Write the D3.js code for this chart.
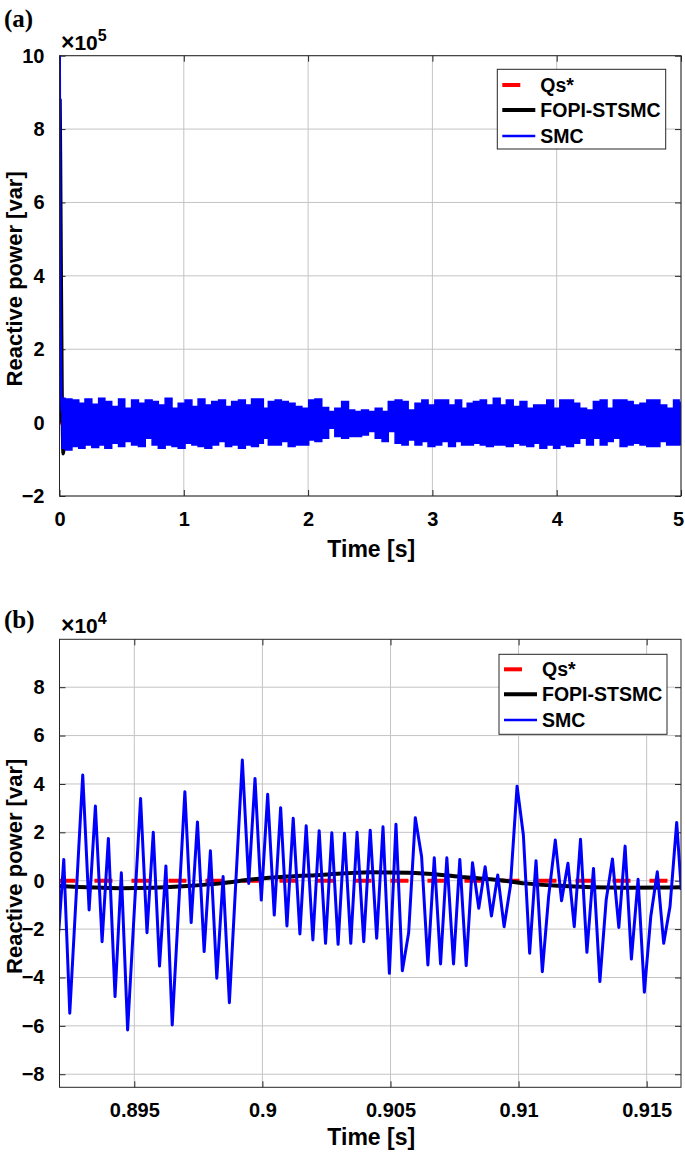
<!DOCTYPE html>
<html><head><meta charset="utf-8">
<script src="https://cdn.jsdelivr.net/npm/d3@7"></script>
<style>body{margin:0;background:#fff}svg{display:block}</style>
</head><body><svg id="c" width="685" height="1153"></svg>
<script>
// ---------- DATA ----------
const seriesNames = ["Qs*", "FOPI-STSMC", "SMC"];

// Panel (a): whole run 0..5 s (values in x10^5 var)
const aXTicks = [0, 1, 2, 3, 4, 5];
const aXTickLabels = ["0", "1", "2", "3", "4", "5"];
const aYTicks = [-2, 0, 2, 4, 6, 8, 10];
const aRefT = [0, 5];
const aRefV = [0, 0];
const aFopiT = [0, 0.004, 0.01, 0.02, 0.03, 0.05, 5.0];
const aFopiV = [0, 8.8, 6.0, 1.0, -0.85, 0, 0];
const aSmcSpikeT = [0, 0.002, 0.006, 0.015, 0.02];
const aSmcSpikeV = [5.9, 10.0, 3.0, 0.6, 0.3];
// envelope of the fast SMC chattering band
const aBandT = [0.02,0.07,0.13,0.18,0.23,0.29,0.34,0.39,0.45,0.50,0.55,0.61,0.66,0.72,0.77,0.82,0.88,0.93,0.98,1.04,1.09,1.14,1.20,1.25,1.31,1.36,1.41,1.47,1.52,1.57,1.63,
  1.65,1.71,1.76,1.81,1.87,1.92,1.98,2.03,2.08,2.14,2.19,2.24,2.30,2.35,2.40,2.46,2.51,2.57,2.62,2.67,2.73,2.78,2.83,2.89,2.94,2.99,3.05,3.10,3.16,3.21,3.26,
  3.30,3.36,3.41,3.46,3.52,3.57,3.62,3.68,3.73,3.79,3.84,3.89,3.95,4.00,4.05,4.11,4.16,4.21,4.27,4.32,4.38,4.43,4.48,4.54,4.59,4.64,4.70,4.75,4.80,4.86,4.91,4.97,5.00];
const aBandUpper = [0.665,0.647,0.619,0.528,0.647,0.501,0.665,0.574,0.437,0.647,0.392,0.619,0.528,0.619,0.574,0.483,0.665,0.392,0.528,0.619,0.437,0.647,0.483,0.574,0.619,0.437,0.574,0.619,0.483,0.647,0.647,
  0.392,0.574,0.619,0.574,0.528,0.437,0.392,0.619,0.647,0.410,0.301,0.392,0.574,0.347,0.301,0.347,0.301,0.392,0.301,0.574,0.619,0.574,0.347,0.528,0.619,0.483,0.619,0.619,0.483,0.619,0.392,
  0.528,0.574,0.619,0.483,0.665,0.483,0.619,0.437,0.574,0.392,0.483,0.483,0.619,0.392,0.619,0.619,0.528,0.392,0.347,0.574,0.619,0.392,0.619,0.619,0.574,0.483,0.528,0.619,0.619,0.483,0.392,0.619,0.55];
const aBandLower = [-0.699,-0.745,-0.654,-0.699,-0.608,-0.681,-0.608,-0.699,-0.563,-0.654,-0.518,-0.608,-0.654,-0.427,-0.608,-0.699,-0.608,-0.654,-0.699,-0.563,-0.608,-0.654,-0.699,-0.608,-0.518,-0.654,-0.608,-0.699,-0.608,-0.654,-0.563,
  -0.427,-0.608,-0.608,-0.518,-0.654,-0.608,-0.608,-0.472,-0.518,-0.427,-0.154,-0.381,-0.427,-0.381,-0.381,-0.336,-0.245,-0.427,-0.518,-0.245,-0.563,-0.608,-0.472,-0.608,-0.518,-0.654,-0.608,-0.518,-0.654,-0.518,-0.608,
  -0.608,-0.563,-0.608,-0.654,-0.608,-0.608,-0.654,-0.563,-0.608,-0.654,-0.563,-0.699,-0.608,-0.699,-0.608,-0.654,-0.563,-0.427,-0.608,-0.427,-0.608,-0.518,-0.427,-0.654,-0.608,-0.563,-0.608,-0.654,-0.654,-0.518,-0.608,-0.608,-0.6];

// Panel (b): zoom 0.892..0.916 s (values in x10^4 var)
const bXTicks = [0.895, 0.9, 0.905, 0.91, 0.915];
const bXTickLabels = ["0.895", "0.9", "0.905", "0.91", "0.915"];
const bYTicks = [-8, -6, -4, -2, 0, 2, 4, 6, 8];
const bRefT = [0.892, 0.9165];
const bRefV = [0, 0];
const bFopiT = [0.89204,0.89448,0.89706,0.89838,0.89967,0.90097,0.90227,0.90422,0.90571,0.90701,0.90792,0.90921,0.91025,0.91155,0.91285,0.91415,0.91634];
const bFopiV = [-0.22,-0.31,-0.22,-0.11,0.06,0.17,0.24,0.35,0.33,0.24,0.14,0.03,-0.11,-0.21,-0.27,-0.29,-0.27];
const bSmcT = [0.892013,0.892247,0.892481,0.892987,0.893236,0.893481,0.893742,0.893988,0.894248,0.894494,0.894739,0.895245,0.895495,0.895740,0.895985,0.896234,0.896480,0.896974,0.897220,0.897465,
  0.897726,0.897971,0.898220,0.898466,0.898711,0.899217,0.899466,0.899712,0.899957,0.900206,0.900463,0.900712,0.900958,0.901203,0.901464,0.901709,0.901970,0.902216,0.902465,0.902710,
  0.902955,0.903205,0.903450,0.903695,0.903956,0.904209,0.904462,0.904708,0.904957,0.905214,0.905463,0.905709,0.905969,0.906215,0.906460,0.906709,0.906955,0.907200,0.907461,0.907706,
  0.907955,0.908201,0.908446,0.908695,0.908941,0.909186,0.909435,0.909680,0.909941,0.910187,0.910432,0.910681,0.910927,0.911172,0.911433,0.911678,0.911927,0.912173,0.912418,0.912667,
  0.912924,0.913173,0.913419,0.913664,0.913913,0.914158,0.914404,0.914665,0.914910,0.915159,0.915416,0.915665,0.915911,0.916172,0.916351];
const bSmcV = [-2.66,0.88,-5.48,4.37,-1.21,3.09,-2.52,1.75,-4.79,0.33,-6.17,3.40,-2.15,2.0,-3.53,0.61,-5.96,3.68,-1.73,2.43,
  -2.93,1.24,-4.03,0.17,-5.04,4.99,-0.11,4.23,-0.80,3.57,-1.42,3.02,-1.87,2.58,-2.20,2.27,-2.45,2.07,-2.59,1.98,
  -2.63,1.96,-2.59,2.0,-2.52,2.09,-2.38,2.23,-3.83,2.33,-3.72,-2.15,2.60,0.99,-3.48,0.95,-3.44,0.95,-3.44,0.88,
  -3.51,0.74,-1.14,0.58,-1.46,0.24,-1.90,-0.22,3.91,1.89,-3.0,0.83,-3.76,-0.66,1.68,-0.83,0.72,-1.90,1.71,-2.96,
  0.51,-4.17,-0.80,0.90,-1.93,1.43,-3.24,0.06,-4.61,-1.49,0.37,-2.59,-1.07,2.41,-0.38];

// ---------- DRAWING ----------
const svg = d3.select("#c");
const FONT = "'Liberation Sans', Arial, Helvetica, sans-serif";
const colRef = "#ff0000", colFopi = "#000000", colSmc = "#0000ff";
const zip = (t, v) => t.map((d, i) => [d, v[i]]);

function drawPanel(cfg) {
  const {id, box, xDom, yDom, xTicks, xLabels, yTicks, tag, tagY, expo, expoY, xTitleY, legend} = cfg;
  const x = d3.scaleLinear().domain(xDom).range([box.l, box.r]);
  const y = d3.scaleLinear().domain(yDom).range([box.b, box.t]);
  const g = svg.append("g");
  g.append("clipPath").attr("id", "clip" + id).append("rect")
    .attr("x", box.l).attr("y", box.t).attr("width", box.r - box.l).attr("height", box.b - box.t);
  // grid
  const grid = g.append("g").attr("stroke", "#c4c4c4").attr("stroke-width", 1);
  xTicks.forEach(v => grid.append("line").attr("x1", x(v)).attr("x2", x(v)).attr("y1", box.t).attr("y2", box.b));
  yTicks.forEach(v => grid.append("line").attr("y1", y(v)).attr("y2", y(v)).attr("x1", box.l).attr("x2", box.r));
  // axes with inward ticks via d3 axis
  const tk = 6;
  const axB = g.append("g").attr("transform", `translate(0,${box.b})`)
    .call(d3.axisBottom(x).tickValues(xTicks).tickSize(-tk).tickFormat((d, i) => xLabels[i]).tickPadding(16));
  const axT = g.append("g").attr("transform", `translate(0,${box.t})`)
    .call(d3.axisTop(x).tickValues(xTicks).tickSize(-tk).tickFormat(""));
  const axL = g.append("g").attr("transform", `translate(${box.l},0)`)
    .call(d3.axisLeft(y).tickValues(yTicks).tickSize(-tk).tickFormat(d3.format("d")).tickPadding(15));
  const axR = g.append("g").attr("transform", `translate(${box.r},0)`)
    .call(d3.axisRight(y).tickValues(yTicks).tickSize(-tk).tickFormat(""));
  [axB, axT, axL, axR].forEach(a => {
    a.select(".domain").remove();
    a.selectAll(".tick line").attr("stroke", "#262626");
    a.selectAll("text").attr("fill", "#000").style("font-family", FONT).style("font-weight", "bold").style("font-size", "20px");
  });
  axB.selectAll("text").attr("dy", "0.71em");
  // keep the last x label inside the picture
  axB.selectAll(".tick").filter(d => d === xDom[1]).select("text").attr("x", -3);
  // plot data
  const plot = g.append("g").attr("clip-path", `url(#clip${id})`);
  const line = d3.line().x(d => x(d[0])).y(d => y(d[1]));
  plot.append("path").attr("d", line(zip(cfg.refT, cfg.refV))).attr("fill", "none")
    .attr("stroke", colRef).attr("stroke-width", 4).attr("stroke-dasharray", "18,19");
  plot.append("path").attr("d", d3.line().x(d => x(d[0])).y(d => y(d[1])).curve(d3.curveMonotoneX)(zip(cfg.fopiT, cfg.fopiV)))
    .attr("fill", "none").attr("stroke", colFopi).attr("stroke-width", cfg.fopiW).attr("stroke-linejoin", "round");
  if (cfg.bandT) {
    const band = cfg.bandT.map((t, i) => ({t, u: cfg.bandU[i], l: cfg.bandL[i]}));
    const area = d3.area().x(d => x(d.t)).y0(d => y(d.l)).y1(d => y(d.u)).curve(d3.curveStep);
    plot.append("path").attr("d", area(band)).attr("fill", colSmc).attr("stroke", colSmc).attr("stroke-width", 1.5);
  }
  plot.append("path").attr("d", line(zip(cfg.smcT, cfg.smcV))).attr("fill", "none")
    .attr("stroke", colSmc).attr("stroke-width", cfg.smcW).attr("stroke-linejoin", "round");
  // box
  g.append("rect").attr("x", box.l).attr("y", box.t).attr("width", box.r - box.l).attr("height", box.b - box.t)
    .attr("fill", "none").attr("stroke", "#262626").attr("stroke-width", 1);
  // titles
  g.append("text").attr("x", (box.l + box.r) / 2 + 1).attr("y", xTitleY).attr("text-anchor", "middle")
    .style("font-family", FONT).style("font-weight", "bold").style("font-size", "23px").text("Time [s]");
  g.append("text").attr("transform", `translate(22,${(box.t + box.b) / 2 + 3}) rotate(-90)`).attr("text-anchor", "middle")
    .style("font-family", FONT).style("font-weight", "bold").style("font-size", "22px").text("Reactive power [var]");
  g.append("text").attr("x", 4).attr("y", tagY)
    .style("font-family", "'Liberation Serif', 'Times New Roman', serif").style("font-weight", "bold").style("font-size", "25px").text(tag);
  const ex = g.append("text").attr("x", 61).attr("y", expoY)
    .style("font-family", FONT).style("font-weight", "bold").style("font-size", "21px");
  ex.append("tspan").style("font-size", "23px").text("×");
  ex.append("tspan").text("10");
  ex.append("tspan").attr("dy", -9).style("font-size", "16px").text(expo);
  // legend
  const L = legend;
  const lg = g.append("g");
  lg.append("rect").attr("x", L.x).attr("y", L.y).attr("width", L.w).attr("height", L.h)
    .attr("fill", "#fff").attr("stroke", "#262626").attr("stroke-width", 1);
  const styles = [{c: colRef, w: 4, len: 18}, {c: colFopi, w: 4, len: 33}, {c: colSmc, w: 2.5, len: 33}];
  seriesNames.forEach((name, i) => {
    const yy = L.y + L.rows[i];
    lg.append("line").attr("x1", L.x + 5).attr("x2", L.x + 5 + styles[i].len).attr("y1", yy).attr("y2", yy)
      .attr("stroke", styles[i].c).attr("stroke-width", styles[i].w);
    lg.append("text").attr("x", L.x + 43).attr("y", yy).attr("dy", "0.36em")
      .style("font-family", FONT).style("font-weight", "bold").style("font-size", "19.5px").text(name);
  });
}

drawPanel({
  id: "a", box: {l: 59.5, r: 681, t: 55.7, b: 496}, xDom: [0, 5], yDom: [-2, 10],
  xTicks: aXTicks, xLabels: aXTickLabels, yTicks: aYTicks, tag: "(a)", tagY: 27, expo: "5", expoY: 50, xTitleY: 557,
  refT: aRefT, refV: aRefV, fopiT: aFopiT, fopiV: aFopiV, fopiW: 3.5,
  smcT: aSmcSpikeT, smcV: aSmcSpikeV, smcW: 2.5, bandT: aBandT, bandU: aBandUpper, bandL: aBandLower,
  legend: {x: 497.3, y: 69.3, w: 168.4, h: 79.7, rows: [15.7, 40.7, 66.7]}
});
drawPanel({
  id: "b", box: {l: 59.5, r: 681, t: 639.3, b: 1087.3}, xDom: [0.89208, 0.91634], yDom: [-8.54, 9.98],
  xTicks: bXTicks, xLabels: bXTickLabels, yTicks: bYTicks, tag: "(b)", tagY: 628, expo: "4", expoY: 633, xTitleY: 1145,
  refT: bRefT, refV: bRefV, fopiT: bFopiT, fopiV: bFopiV, fopiW: 4,
  smcT: bSmcT, smcV: bSmcV, smcW: 3,
  legend: {x: 499, y: 654.3, w: 168, h: 80, rows: [15, 40, 65.7]}
});
</script></body></html>
